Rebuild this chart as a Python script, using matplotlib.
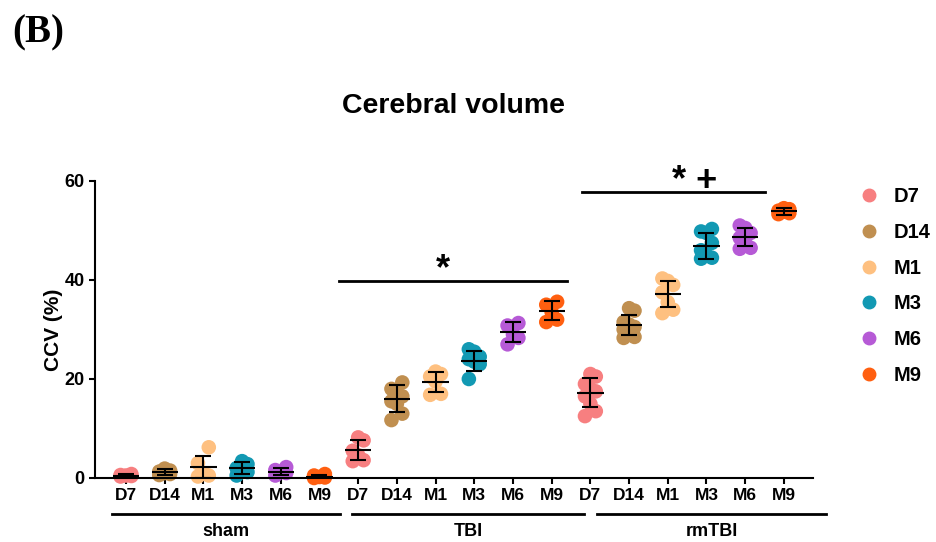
import numpy as np
import matplotlib
matplotlib.use('Agg')
import matplotlib.pyplot as plt
from matplotlib.lines import Line2D
import matplotlib.transforms as mtrans

plt.rcParams['font.family'] = ['Liberation Sans', 'DejaVu Sans']

timepoints = ['D7', 'D14', 'M1', 'M3', 'M6', 'M9']
groups = ['sham', 'TBI', 'rmTBI']
colors = ['#F77F80', '#C08F50', '#FEC080', '#1299B3', '#B65AD6', '#FF5F10']

# individual animals, CCV (%)
sham = [
    [0.3, 0.5, 0.8, 0.4, 0.6],
    [0.6, 1.0, 1.5, 1.9, 0.8, 1.3],
    [6.2, 3.0, 0.5, 0.3, 1.0],
    [0.5, 1.2, 2.0, 2.8, 3.4, 1.8],
    [0.5, 1.0, 1.6, 2.2, 1.2],
    [0.0, 0.2, 0.5, 0.8, 0.1],
]
tbi = [
    [8.2, 7.6, 5.5, 4.6, 3.6, 3.4],
    [19.3, 18.0, 17.0, 16.5, 15.5, 15.0, 13.0, 11.7],
    [21.5, 21.0, 20.5, 19.5, 17.0, 16.8],
    [26.0, 25.5, 24.5, 24.0, 23.5, 23.0, 20.0],
    [31.3, 30.8, 29.0, 28.3, 27.0],
    [35.6, 35.0, 33.5, 32.0, 31.5],
]
rmtbi = [
    [21.0, 20.5, 19.0, 18.0, 17.5, 16.5, 15.0, 13.5, 12.5],
    [34.3, 33.8, 31.5, 31.0, 30.5, 30.0, 29.0, 28.5, 28.3],
    [40.3, 39.8, 39.0, 37.5, 35.5, 34.0, 33.3],
    [50.3, 49.8, 49.5, 47.5, 46.0, 45.0, 44.5, 44.3],
    [51.0, 50.5, 49.5, 48.5, 47.5, 46.5, 46.3],
    [54.5, 54.3, 54.0, 53.8, 53.5, 53.3],
]
# mean and SD as drawn
means = [0.5, 1.2, 2.2, 2.0, 1.3, 0.3,
         5.6, 16.0, 19.4, 23.6, 29.5, 33.8,
         17.2, 30.9, 37.2, 46.9, 48.7, 53.9]
sds = [0.3, 0.6, 2.3, 1.2, 0.7, 0.3,
       2.0, 2.7, 2.0, 2.0, 2.0, 1.9,
       2.9, 2.0, 2.6, 2.6, 1.8, 0.7]

all_data = sham + tbi + rmtbi

fig = plt.figure(figsize=(9.36, 5.42), dpi=100)
ax = fig.add_axes([0.1015, 0.1181, 0.767, 0.548])

for i, vals in enumerate(all_data):
    col = colors[i % 6]
    order = np.argsort(vals)
    offs = np.zeros(len(vals))
    pattern = [-0.14, 0.14, 0.0]
    for k, idx in enumerate(order):
        offs[idx] = pattern[k % 3]
    ax.scatter(i + offs, vals, s=110, color=col, edgecolors='none', zorder=2,
               clip_on=False)
    ax.errorbar(i, means[i], yerr=sds[i], fmt='none', ecolor='black',
                elinewidth=1.5, capsize=5.5, capthick=1.5, zorder=3)
    ax.hlines(means[i], i - 0.34, i + 0.34, color='black', lw=1.5, zorder=3)

ax.set_xlim(-0.8, 17.75)
ax.set_ylim(0, 60)
ax.set_yticks([0, 20, 40, 60])
ax.set_xticks(range(18))
ax.set_xticklabels(timepoints * 3)
for lab in ax.get_xticklabels() + ax.get_yticklabels():
    lab.set_fontweight('bold')
ax.tick_params(axis='x', labelsize=12.5, width=1.5, length=4.5, pad=3)
ax.tick_params(axis='y', labelsize=13, width=1.5, length=4.5, pad=3)
ax.spines['top'].set_visible(False)
ax.spines['right'].set_visible(False)
ax.spines['left'].set_linewidth(1.5)
ax.spines['bottom'].set_linewidth(1.5)
ax.set_ylabel('CCV (%)', fontsize=15, fontweight='bold', labelpad=1)

# significance bars
ax.plot([5.5, 11.4], [39.8, 39.8], color='black', lw=2, clip_on=False)
ax.text(8.2, 38.6, '*', ha='center', va='bottom', fontsize=26, fontweight='bold')
ax.plot([11.78, 16.5], [57.8, 57.8], color='black', lw=2, clip_on=False)
ax.text(14.7, 56.3, '* +', ha='center', va='bottom', fontsize=26, fontweight='bold',
        clip_on=False)

# group underlines and labels
trans = mtrans.blended_transform_factory(ax.transData, fig.transFigure)
spans = [(-0.36, 5.53), (5.84, 11.83), (12.17, 18.09)]
for (a, b), g in zip(spans, groups):
    ax.add_line(Line2D([a, b], [1 - 514 / 542, 1 - 514 / 542], transform=trans,
                       color='black', lw=2, clip_on=False))
    ax.text((a + b) / 2, 1 - 532 / 542, g, transform=trans, ha='center',
            va='center', fontsize=13, fontweight='bold')

ax.set_title('Cerebral volume', fontsize=20.5, fontweight='bold', pad=49)
fig.text(0.013, 0.94, '(B)', fontsize=28, fontweight='bold',
         family='Liberation Serif', va='center')

handles = [Line2D([], [], marker='o', ls='none', color=c, markersize=9)
           for c in colors]
fig.legend(handles, timepoints, loc='upper left', bbox_to_anchor=(0.898, 0.688),
           frameon=False, handlelength=1, handletextpad=0.75,
           labelspacing=0.83, prop={'weight': 'bold', 'size': 14.5})

fig.savefig('out.png', dpi=100)
